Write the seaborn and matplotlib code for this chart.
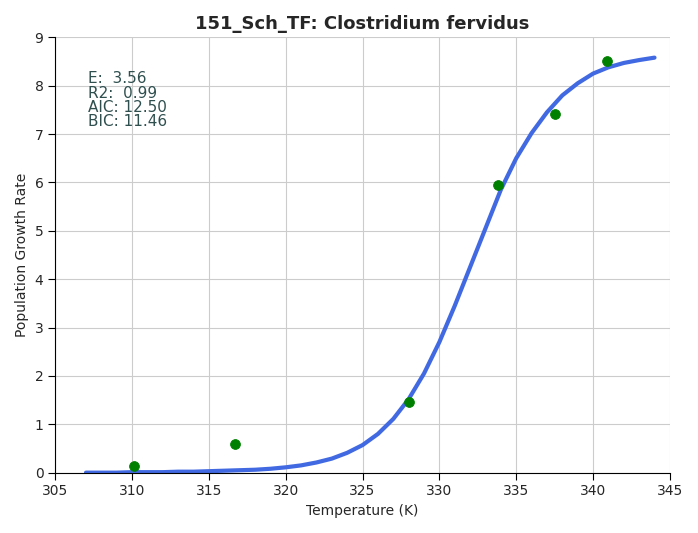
import numpy as np
import matplotlib
matplotlib.use("Agg")
import matplotlib.pyplot as plt
import seaborn as sns

temp_obs = [310.1, 316.7, 328.0, 333.8, 337.5, 340.9]
rate_obs = [0.13, 0.60, 1.47, 5.95, 7.42, 8.52]

temp_fit = list(range(307, 345))
rate_fit = [0.0, 0.0, 0.0, 0.01, 0.01, 0.01, 0.02, 0.02, 0.03, 0.04,
            0.05, 0.06, 0.08, 0.11, 0.15, 0.21, 0.29, 0.41, 0.57, 0.80,
            1.11, 1.52, 2.05, 2.70, 3.45, 4.25, 5.05, 5.85, 6.50, 7.02,
            7.45, 7.80, 8.05, 8.25, 8.38, 8.47, 8.53, 8.58]

stats_text = "E:  3.56\nR2:  0.99\nAIC: 12.50\nBIC: 11.46"

sns.set_style("whitegrid")
sns.set_style({"axes.edgecolor": "black", "xtick.bottom": True, "ytick.left": True})
fig, ax = plt.subplots(figsize=(6.98, 5.33), dpi=100)

sns.lineplot(x=temp_fit, y=rate_fit, color="royalblue", linewidth=3, ax=ax)
sns.scatterplot(x=temp_obs, y=rate_obs, color="green", s=50, edgecolor="green", zorder=3, ax=ax)

ax.set_xlim(305, 345)
ax.set_ylim(0, 9)
ax.set_xticks(range(305, 346, 5))
ax.set_yticks(range(0, 10))
for s in ["top", "right"]:
    ax.spines[s].set_visible(False)
ax.tick_params(axis="both", direction="out", length=5, color="black", labelsize=10)
ax.set_xlabel("Temperature (K)", fontsize=10)
ax.set_ylabel("Population Growth Rate", fontsize=10)
ax.set_title("151_Sch_TF: Clostridium fervidus", fontsize=13, fontweight="bold")
ax.text(307.1, 8.3, stats_text, fontsize=11, color="darkslategray", va="top", linespacing=0.95)

plt.tight_layout()
plt.savefig("out.png", dpi=100)
